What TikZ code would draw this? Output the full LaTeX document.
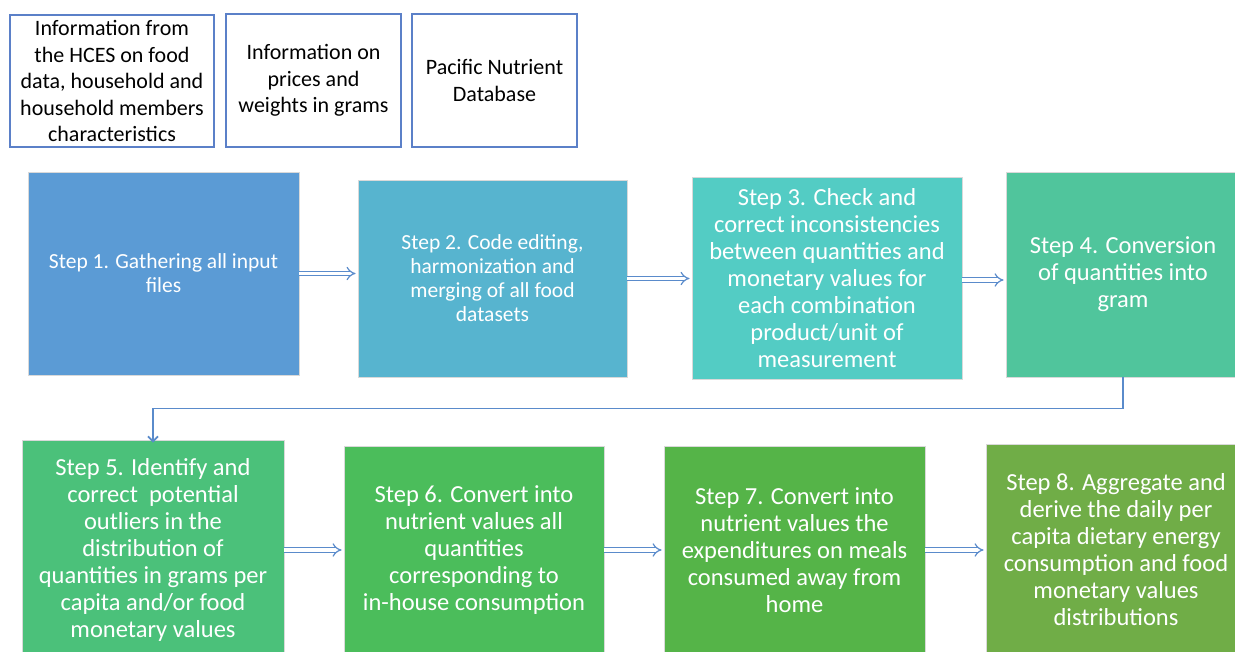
\documentclass[tikz,border=0pt]{standalone}
\usepackage{fontspec}
\setmainfont{Carlito}
\usetikzlibrary{arrows.meta}
\definecolor{stepA}{HTML}{5B9BD5}
\definecolor{stepB}{HTML}{57B4CF}
\definecolor{stepC}{HTML}{53CCC4}
\definecolor{stepD}{HTML}{50C59C}
\definecolor{stepE}{HTML}{4BC17A}
\definecolor{stepF}{HTML}{4BBD5B}
\definecolor{stepG}{HTML}{55B448}
\definecolor{stepH}{HTML}{70AD47}
\definecolor{srcline}{HTML}{5B80C8}
\definecolor{arrline}{HTML}{5A8BCB}
\begin{document}
\begin{tikzpicture}[x=1pt,y=-1pt,
	srcbox/.style={draw=srcline,line width=1.3pt,fill=white,align=center,inner sep=0pt,
		font=\fontsize{22}{26.5}\selectfont},
	stepbox/.style={draw=black!15,line width=0.8pt,text=white,align=center,inner sep=0pt,
		font=\fontsize{24.5}{27}\selectfont},
	smalltext/.style={font=\fontsize{21.5}{24}\selectfont},
	dblarrow/.style={draw=arrline,line width=1.2pt,double=white,double distance=3.4pt,
		-{Implies[length=5.5pt]}},
	elbow/.style={draw=arrline,line width=1.8pt,-{Straight Barb[length=5pt,width=10pt]}}]
		\useasboundingbox (0,0) rectangle (1235,651);
		\clip (0,0) rectangle (1235,651);
		% input sources
		\node[srcbox,minimum width=204pt,minimum height=132pt] (hces) at (112,81) {Information from\\the HCES on food\\data, household and\\household members\\characteristics};
		\node[srcbox,minimum width=175pt,minimum height=133pt] (prices) at (313.5,80.5) {Information on\\prices and\\weights in grams};
		\node[srcbox,minimum width=165pt,minimum height=133pt] (pacific) at (494.5,80.5) {Pacific Nutrient\\Database};
		% first row of steps
		\node[stepbox,smalltext,fill=stepA,minimum width=271pt,minimum height=203pt] (s1) at (163.5,273.5) {Step 1. Gathering all input\\files};
		\node[stepbox,smalltext,fill=stepB,minimum width=269pt,minimum height=197pt] (s2) at (492.5,278.5) {Step 2. Code editing,\\harmonization and\\merging of all food\\datasets};
		\node[stepbox,fill=stepC,minimum width=270pt,minimum height=202pt] (s3) at (827,278) {Step 3. Check and\\correct inconsistencies\\between quantities and\\monetary values for\\each combination\\product/unit of\\measurement};
		\node[stepbox,fill=stepD,minimum width=234pt,minimum height=205pt] (s4) at (1123,274.5) {Step 4. Conversion\\of quantities into\\gram};
		% second row of steps
		\node[stepbox,fill=stepE,minimum width=262pt,minimum height=220pt] (s5) at (153,550) {Step 5. Identify and\\correct\ \ potential\\outliers in the\\distribution of\\quantities in grams per\\capita and/or food\\monetary values};
		\node[stepbox,fill=stepF,minimum width=260pt,minimum height=208pt] (s6) at (474,550) {Step 6. Convert into\\nutrient values all\\quantities\\corresponding to\\in-house consumption};
		\node[stepbox,fill=stepG,minimum width=261pt,minimum height=208pt] (s7) at (794.5,550) {Step 7. Convert into\\nutrient values the\\expenditures on meals\\consumed away from\\home};
		\node[stepbox,fill=stepH,minimum width=260pt,minimum height=212pt] (s8) at (1116,550) {Step 8. Aggregate and\\derive the daily per\\capita dietary energy\\consumption and food\\monetary values\\distributions};
		% connectors
		\draw[dblarrow] (s1.east) -- ([xshift=-2pt]s1.east -| s2.west);
		\draw[dblarrow] (s2.east) -- ([xshift=-2pt]s2.east -| s3.west);
		\draw[dblarrow] ([yshift=-2pt]s3.east) -- ([xshift=-2pt,yshift=-2pt]s3.east -| s4.west);
		\draw[elbow] (s4.south) -- ++(0,31) -| ([yshift=-3pt]s5.north);
		\draw[dblarrow] (s5.east) -- ([xshift=-2pt]s5.east -| s6.west);
		\draw[dblarrow] (s6.east) -- ([xshift=-2pt]s6.east -| s7.west);
		\draw[dblarrow] (s7.east) -- ([xshift=-2pt]s7.east -| s8.west);
\end{tikzpicture}
\end{document}
